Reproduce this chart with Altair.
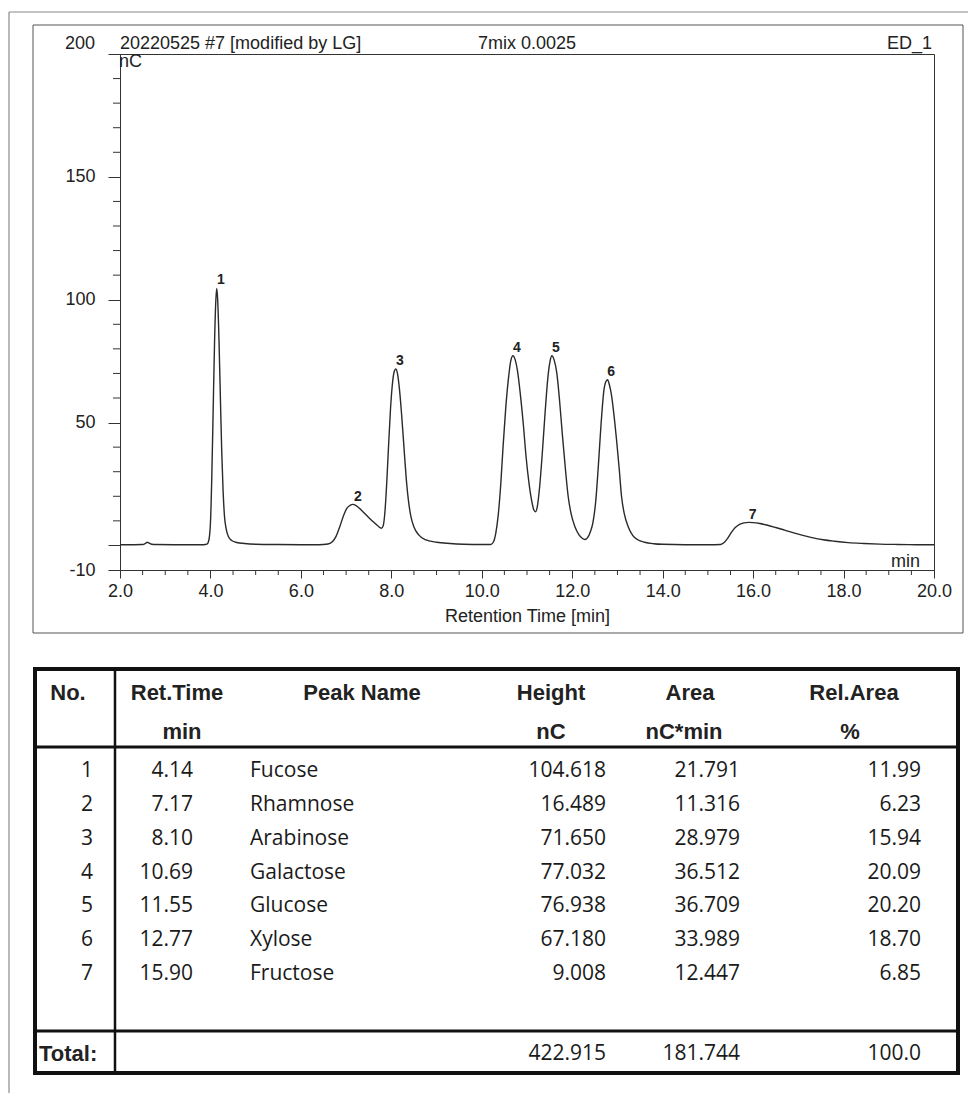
import altair as alt
import pandas as pd

# ---------------- data ----------------
peak_no = [1, 2, 3, 4, 5, 6, 7]
ret_time = [4.14, 7.17, 8.10, 10.69, 11.55, 12.77, 15.90]
peak_name = ["Fucose", "Rhamnose", "Arabinose", "Galactose", "Glucose", "Xylose", "Fructose"]
peak_height = [104.618, 16.489, 71.650, 77.032, 76.938, 67.180, 9.008]
peak_area = [21.791, 11.316, 28.979, 36.512, 36.709, 33.989, 12.447]
rel_area = [11.99, 6.23, 15.94, 20.09, 20.20, 18.70, 6.85]
total_height = 422.915
total_area = 181.744
total_rel_area = 100.0

trace_time = [
    2.00, 2.30, 2.50, 2.56, 2.60, 2.65, 2.70, 2.80, 3.20, 3.60,
    3.85, 3.92, 3.95, 3.98, 4.00, 4.03, 4.06, 4.09, 4.12, 4.14,
    4.16, 4.19, 4.22, 4.25, 4.28, 4.31, 4.35, 4.40, 4.47, 4.58,
    4.75, 5.00, 5.50, 6.00, 6.40, 6.60, 6.70, 6.78, 6.86, 6.94,
    7.02, 7.08, 7.15, 7.22, 7.30, 7.40, 7.50, 7.60, 7.70, 7.78,
    7.82, 7.86, 7.90, 7.94, 7.98, 8.02, 8.06, 8.10, 8.14, 8.18,
    8.22, 8.26, 8.30, 8.34, 8.38, 8.43, 8.50, 8.60, 8.75, 9.00,
    9.30, 9.60, 10.00, 10.20, 10.26, 10.31, 10.36, 10.42, 10.47, 10.53,
    10.59, 10.64, 10.69, 10.74, 10.79, 10.85, 10.92, 10.98, 11.04, 11.10,
    11.15, 11.19, 11.23, 11.28, 11.34, 11.40, 11.46, 11.51, 11.55, 11.60,
    11.66, 11.72, 11.78, 11.85, 11.91, 11.98, 12.06, 12.15, 12.22, 12.28,
    12.34, 12.40, 12.46, 12.52, 12.58, 12.64, 12.70, 12.74, 12.78, 12.82,
    12.87, 12.93, 12.98, 13.04, 13.09, 13.15, 13.24, 13.34, 13.45, 13.60,
    13.80, 14.00, 14.50, 15.00, 15.28, 15.36, 15.44, 15.52, 15.60, 15.70,
    15.80, 15.90, 16.00, 16.15, 16.30, 16.50, 16.70, 16.90, 17.10, 17.30,
    17.55, 17.80, 18.10, 18.45, 18.80, 19.20, 19.60, 20.00,
]
trace_signal = [
    0.3, 0.3, 0.35, 0.8, 1.3, 0.9, 0.5, 0.35, 0.3, 0.3,
    0.3, 0.5, 1.2, 4.0, 9.0, 28, 55, 82, 100, 104.6,
    100, 83, 60, 38, 22, 12, 6.5, 3.5, 2.0, 1.2,
    0.8, 0.5, 0.35, 0.3, 0.3, 0.6, 1.6, 3.8, 7.6, 12.0,
    15.2, 16.2, 16.7, 16.2, 15.0, 13.2, 11.4, 9.6, 8.0, 7.0,
    8.0, 14, 26, 41, 55, 65, 70.5, 71.8, 69.5, 63.5,
    55, 45, 34.5, 25, 18, 12, 7.5, 4.4, 2.4, 1.3,
    0.8, 0.5, 0.35, 0.4, 1.5, 5, 11.7, 25, 40, 56,
    68, 75, 77.2, 75.5, 71, 62, 49, 36, 26, 18.5,
    14.5, 13.7, 16, 24, 38, 54, 68, 75, 77.2, 75.5,
    70, 59, 45.5, 31, 20, 12.5, 7.6, 4.3, 2.9, 2.4,
    3.2, 5.5, 9.5, 18, 33, 50, 63, 66.5, 67.4, 65.5,
    61, 52, 43, 31, 20, 13, 7.5, 4, 2.3, 1.3,
    0.7, 0.45, 0.3, 0.3, 0.4, 1.2, 3.0, 5.3, 7.2, 8.6,
    9.2, 9.4, 9.3, 8.9, 8.3, 7.3, 6.2, 5.1, 4.1, 3.2,
    2.3, 1.7, 1.15, 0.8, 0.55, 0.4, 0.3, 0.25,
]

x_major = [2, 4, 6, 8, 10, 12, 14, 16, 18, 20]
x_minor = [2.5, 3, 3.5, 4.5, 5, 5.5, 6.5, 7, 7.5, 8.5, 9, 9.5, 10.5, 11, 11.5,
           12.5, 13, 13.5, 14.5, 15, 15.5, 16.5, 17, 17.5, 18.5, 19, 19.5]
y_major = [-10, 0, 50, 100, 150, 200]
y_minor = [10, 20, 30, 40, 60, 70, 80, 90, 110, 120, 130, 140, 160, 170, 180, 190]
y_top_label = [200]

header_left = "20220525 #7 [modified by LG]"
header_mid = "7mix 0.0025"
header_right = "ED_1"
table_head_1 = ["No.", "Ret.Time", "Peak Name", "Height", "Area", "Rel.Area"]
table_head_2 = ["", "min", "", "nC", "nC*min", "%"]

# ---------------- layout (pixels) ----------------
W, H = 814, 516
PAD_L, PAD_T = 120, 54
CANVAS_W, CANVAS_H = 968, 1093

def rx(px):
    return px - PAD_L

def ry(py):
    return py - PAD_T

CHART_FONT = "Liberation Sans"
TABLE_FONT = "Open Sans"
INK = "#222222"

xs = alt.Scale(domain=[2, 20], nice=False, zero=False)
ys = alt.Scale(domain=[-10, 200], nice=False, zero=False)
# identical axis definitions shared by every chromatogram layer (so they merge cleanly)
x_axis = alt.Axis(values=x_major, format=".1f", title="Retention Time [min]", tickSize=8,
                  labelPadding=4, titlePadding=7, labelFlush=False, labelOverlap=False)
y_axis = alt.Axis(values=y_major, title=None, tickSize=12, labelPadding=13,
                  labelExpr="(datum.value == 0 || datum.value == 200) ? '' : toString(datum.value)")

one = pd.DataFrame({"k": [0]})

def rule_h(x1, x2, y, color, w):
    return alt.Chart(one).mark_rule(color=color, strokeWidth=w).encode(
        x=alt.value(x1), x2=alt.value(x2), y=alt.value(y))

def rule_v(x, y1, y2, color, w):
    return alt.Chart(one).mark_rule(color=color, strokeWidth=w).encode(
        x=alt.value(x), y=alt.value(y1), y2=alt.value(y2))

def label(text, x, y, align="left", baseline="alphabetic", size=18, weight="normal",
          font=CHART_FONT, color=INK):
    return alt.Chart(one).mark_text(
        text=text, align=align, baseline=baseline, fontSize=size, fontWeight=weight,
        font=font, color=color).encode(x=alt.value(x), y=alt.value(y))

layers = []

# chromatogram
trace = pd.DataFrame({"time": trace_time, "signal": trace_signal})
layers.append(alt.Chart(trace).mark_line(color="#2a2a2a", strokeWidth=1.4, interpolate="monotone").encode(
    x=alt.X("time:Q", scale=xs, axis=x_axis),
    y=alt.Y("signal:Q", scale=ys, axis=y_axis),
))

# minor ticks
layers.append(alt.Chart(pd.DataFrame({"tick": x_minor})).mark_rule(color="#333333").encode(
    x=alt.X("tick:Q", scale=xs, axis=x_axis), y=alt.value(H), y2=alt.value(H + 5)))
layers.append(alt.Chart(pd.DataFrame({"v": y_minor})).mark_rule(color="#333333").encode(
    y=alt.Y("v:Q", scale=ys, axis=y_axis), x=alt.value(-7), x2=alt.value(0)))

# top y label (raised like the original)
layers.append(alt.Chart(pd.DataFrame({"v": y_top_label})).mark_text(
    align="right", baseline="middle", dy=-10, fontSize=18, font=CHART_FONT, color=INK).encode(
    y=alt.Y("v:Q", scale=ys, axis=y_axis), x=alt.value(-25), text=alt.Text("v:Q", format="d")))

# peak labels
peaks = pd.DataFrame({"no": peak_no, "rt": ret_time, "h": peak_height})
layers.append(alt.Chart(peaks).mark_text(
    font=CHART_FONT, fontSize=14, fontWeight="bold", color=INK, dx=4, dy=-1,
    baseline="bottom").encode(
    x=alt.X("rt:Q", scale=xs, axis=x_axis), y=alt.Y("h:Q", scale=ys, axis=y_axis),
    text=alt.Text("no:Q", format="d")))

# page border lines
layers.append(rule_h(rx(9), rx(968), ry(12), "#8a8a8a", 1.2))
layers.append(rule_v(rx(9), ry(12), ry(1093), "#8a8a8a", 1.2))

# chart frame
layers.append(alt.Chart(one).mark_rect(fillOpacity=0, stroke="#555555", strokeWidth=1).encode(
    x=alt.value(rx(33)), x2=alt.value(rx(963)), y=alt.value(ry(25)), y2=alt.value(ry(633))))

# chart header texts and unit labels
layers.append(label(header_left, 0, ry(49)))
layers.append(label(header_mid, rx(527), ry(49), align="center"))
layers.append(label(header_right, rx(932), ry(49), align="right"))
layers.append(label("nC", -1, ry(67)))
layers.append(label("min", rx(920), ry(567), align="right"))

# ---------------- table ----------------
T_L, T_R, T_T, T_B = 35, 958, 669, 1073
ROW1_Y, ROW_STEP = 771, 33.85
TOTAL_Y = 1054
layers.append(alt.Chart(one).mark_rect(fillOpacity=0, stroke="#111111", strokeWidth=4).encode(
    x=alt.value(rx(T_L)), x2=alt.value(rx(T_R)), y=alt.value(ry(T_T)), y2=alt.value(ry(T_B))))
layers.append(rule_v(rx(115), ry(T_T), ry(T_B), "#111111", 2.5))
layers.append(rule_h(rx(T_L), rx(T_R), ry(747), "#111111", 3))
layers.append(rule_h(rx(T_L), rx(T_R), ry(1031), "#111111", 3))

head1_x = [68, 177, 362, 551, 690, 854]
head2_x = [68, 182, 362, 551, 684, 850]
for txt, px in zip(table_head_1, head1_x):
    layers.append(label(txt, rx(px), ry(693), align="center", baseline="middle",
                        size=22, weight="bold"))
for txt, px in zip(table_head_2, head2_x):
    if txt:
        layers.append(label(txt, rx(px), ry(732), align="center", baseline="middle",
                            size=22, weight="bold"))

rows = pd.DataFrame({
    "no": peak_no, "ret": ret_time, "name": peak_name,
    "height": peak_height, "area": peak_area, "rel": rel_area,
})
cols = [
    ("no", "d", "right", 93),
    ("ret", ".2f", "right", 193),
    ("name", None, "left", 250),
    ("height", ".3f", "right", 606),
    ("area", ".3f", "right", 740),
    ("rel", ".2f", "right", 921),
]
for field, fmt, align, px in cols:
    if fmt:
        txt = alt.Text(f"{field}:Q", format=fmt)
    else:
        txt = alt.Text(f"{field}:N")
    layers.append(alt.Chart(rows).transform_calculate(
        row_y=f"{ry(ROW1_Y)} + (datum.no - 1) * {ROW_STEP}").mark_text(
        align=align, baseline="middle", fontSize=21, font=TABLE_FONT, color="#1a1a1a").encode(
        y=alt.Y("row_y:Q", scale=None, axis=None), x=alt.value(rx(px)), text=txt))

totals = pd.DataFrame({"height": [total_height], "area": [total_area], "rel": [total_rel_area]})
layers.append(label("Total:", rx(39), ry(TOTAL_Y), baseline="middle", size=22, weight="bold"))
for field, fmt, px in [("height", ".3f", 606), ("area", ".3f", 740), ("rel", ".1f", 921)]:
    layers.append(alt.Chart(totals).mark_text(
        align="right", baseline="middle", fontSize=21, font=TABLE_FONT, color="#1a1a1a").encode(
        x=alt.value(rx(px)), y=alt.value(ry(TOTAL_Y)), text=alt.Text(f"{field}:Q", format=fmt)))

chart = alt.layer(*layers).properties(
    width=W, height=H,
    padding={"left": PAD_L, "top": PAD_T, "right": CANVAS_W - PAD_L - W,
             "bottom": CANVAS_H - PAD_T - H},
    autosize=alt.AutoSizeParams(type="none"),
    background="white",
).configure_view(stroke="#333333", strokeWidth=1).configure_axis(
    grid=False, domainColor="#333333", tickColor="#333333", labelColor=INK,
    labelFont=CHART_FONT, labelFontSize=18, titleFont=CHART_FONT, titleFontSize=18,
    titleFontWeight="normal", titleColor=INK,
)

chart.save("out.html", embed_options={"renderer": "svg", "actions": False})
